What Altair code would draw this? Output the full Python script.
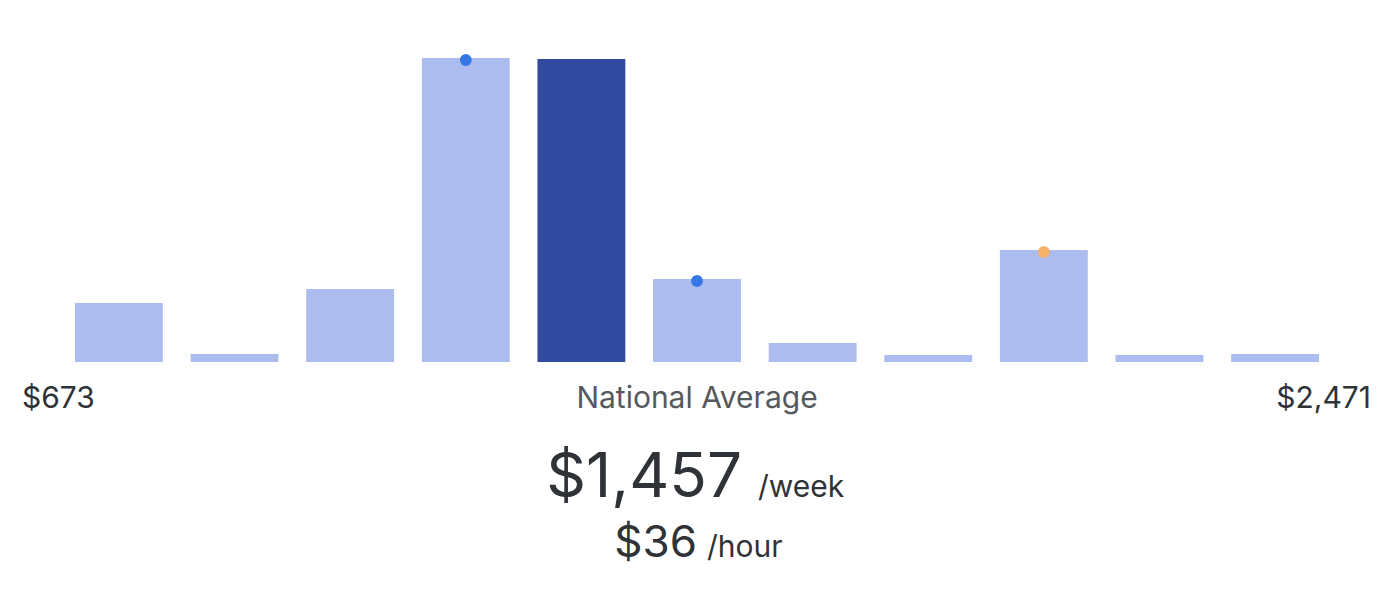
import altair as alt
import pandas as pd

# Data
bins = ["b1", "b2", "b3", "b4", "b5", "b6", "b7", "b8", "b9", "b10", "b11"]
counts = [59, 8, 73, 304, 303, 83, 19, 7, 112, 7, 8]
kinds = ["other", "other", "other", "other", "national", "other", "other", "other", "other", "other", "other"]

marker_bins = ["b4", "b6", "b9"]
marker_kinds = ["blue", "blue", "orange"]

low_label = "$673"
high_label = "$2,471"
center_label = "National Average"
weekly_value = "$1,457"
weekly_unit = "/week"
hourly_value = "$36"
hourly_unit = "/hour"

bars_df = pd.DataFrame({"bin": bins, "count": counts, "kind": kinds})
count_by_bin = dict(zip(bins, counts))
markers_df = pd.DataFrame({
    "bin": marker_bins,
    "count": [count_by_bin[b] for b in marker_bins],
    "marker": marker_kinds,
})

FONT = "Inter"

x_enc = alt.X("bin:N", sort=bins, scale=alt.Scale(domain=bins, paddingInner=0.24, paddingOuter=0), axis=None)
y_enc = alt.Y("count:Q", scale=alt.Scale(domain=[0, 304]), axis=None)

bars = alt.Chart(bars_df).mark_bar().encode(
    x=x_enc,
    y=y_enc,
    color=alt.Color("kind:N", scale=alt.Scale(domain=["other", "national"], range=["#adbcee", "#2f4a9e"]), legend=None),
)

dots = alt.Chart(markers_df).mark_point(filled=True, opacity=1, size=140, yOffset=2).encode(
    x=x_enc,
    y=y_enc,
    color=alt.Color("marker:N", scale=alt.Scale(domain=["blue", "orange"], range=["#3578e5", "#f4b26a"]), legend=None),
)

def label(text, x, y, size, color, align):
    return alt.Chart(pd.DataFrame({"t": [text]})).mark_text(
        font=FONT, fontSize=size, color=color, align=align, baseline="alphabetic"
    ).encode(x=alt.value(x), y=alt.value(y), text="t:N")

texts = [
    label(low_label, -53, 350, 30, "#2f3337", "left"),
    label(high_label, 1296, 350, 30, "#2f3337", "right"),
    label(center_label, 622, 350, 30, "#55595d", "center"),
    label(weekly_value, 667, 439, 62, "#2f3337", "right"),
    label(weekly_unit, 683, 439, 30, "#2f3337", "left"),
    label(hourly_value, 622, 499, 44, "#2f3337", "right"),
    label(hourly_unit, 632, 499, 30, "#2f3337", "left"),
]

chart = alt.layer(bars, dots, *texts).resolve_scale(color="independent").properties(
    width=1244,
    height=304,
    autosize=alt.AutoSizeParams(type="none"),
    padding={"left": 67, "top": 50, "right": 71, "bottom": 222},
).configure_view(stroke=None)

chart.save("out.html", embed_options={"renderer": "svg", "actions": False})
